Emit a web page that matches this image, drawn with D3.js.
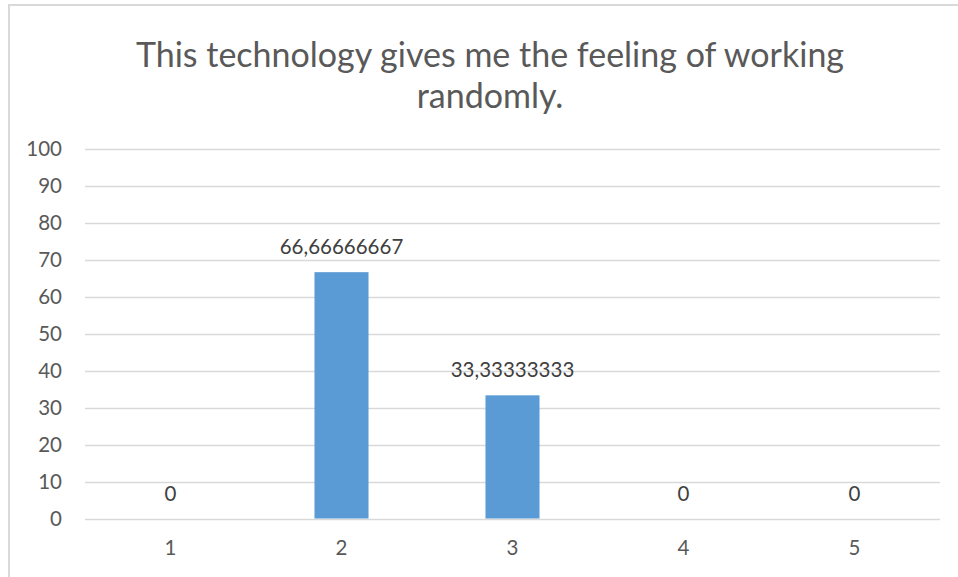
<!DOCTYPE html>
<html>
<head>
<meta charset="utf-8">
<script src="https://cdn.jsdelivr.net/npm/d3@7"></script>
<style>
  html, body { margin: 0; padding: 0; background: #ffffff; }
  svg { display: block; }
</style>
</head>
<body>
<svg id="chart" width="958" height="577"></svg>
<script>
// Survey answer scale and share of responses (%)
const categories = ["1", "2", "3", "4", "5"];
const values = [0, 66.66666667, 33.33333333, 0, 0];
const valueLabels = ["0", "66,66666667", "33,33333333", "0", "0"];
const yTicks = [0, 10, 20, 30, 40, 50, 60, 70, 80, 90, 100];
const titleLines = ["This technology gives me the feeling of working", "randomly."];

const W = 958, H = 577;
const svg = d3.select("#chart");
const font = "Lato, 'Open Sans', sans-serif";

// chart frame
svg.append("rect")
  .attr("x", 9).attr("y", 5)
  .attr("width", W + 10).attr("height", H + 10)
  .attr("fill", "#ffffff")
  .attr("stroke", "#d9d9d9").attr("stroke-width", 2);

// title
const title = svg.append("text")
  .attr("text-anchor", "middle")
  .attr("font-family", font)
  .attr("font-weight", 400)
  .attr("font-size", 34)
  .attr("fill", "#595959");
titleLines.forEach((t, i) => {
  title.append("tspan")
    .attr("x", 490)
    .attr("y", 67 + i * 41)
    .text(t);
});

const plot = { left: 85, right: 940, top: 149, bottom: 518.5 };

const x = d3.scaleBand()
  .domain(categories)
  .range([plot.left, plot.right])
  .paddingInner(0.684)
  .paddingOuter(0.342);

const y = d3.scaleLinear()
  .domain([0, 100])
  .range([plot.bottom, plot.top]);

// horizontal gridlines
svg.append("g")
  .selectAll("line")
  .data(yTicks)
  .join("line")
  .attr("x1", plot.left).attr("x2", plot.right)
  .attr("y1", d => Math.round(y(d)) + 0.5)
  .attr("y2", d => Math.round(y(d)) + 0.5)
  .attr("stroke", "#d9d9d9")
  .attr("stroke-width", 1.5);

// y axis labels
const yAxis = d3.axisLeft(y).tickValues(yTicks).tickSize(0).tickPadding(0);
svg.append("g")
  .attr("transform", `translate(62,0)`)
  .call(yAxis)
  .call(g => g.select(".domain").remove())
  .call(g => g.selectAll("text")
    .attr("font-family", font)
    .attr("font-size", 20.5)
    .attr("fill", "#595959"));

// x axis labels
const xAxis = d3.axisBottom(x).tickSize(0).tickPadding(0);
svg.append("g")
  .attr("transform", `translate(0,${plot.bottom + 22})`)
  .call(xAxis)
  .call(g => g.select(".domain").remove())
  .call(g => g.selectAll("text")
    .attr("font-family", font)
    .attr("font-size", 20.5)
    .attr("fill", "#595959"));

// bars
svg.append("g")
  .selectAll("rect")
  .data(values)
  .join("rect")
  .attr("x", (d, i) => x(categories[i]))
  .attr("y", d => y(d))
  .attr("width", x.bandwidth())
  .attr("height", d => y(0) - y(d))
  .attr("fill", "#5b9bd5");

// value labels
svg.append("g")
  .selectAll("text")
  .data(values)
  .join("text")
  .attr("x", (d, i) => x(categories[i]) + x.bandwidth() / 2)
  .attr("y", d => y(d) - 18)
  .attr("text-anchor", "middle")
  .attr("font-family", font)
  .attr("font-size", 20.5)
  .attr("fill", "#404040")
  .text((d, i) => valueLabels[i]);
</script>
</body>
</html>
